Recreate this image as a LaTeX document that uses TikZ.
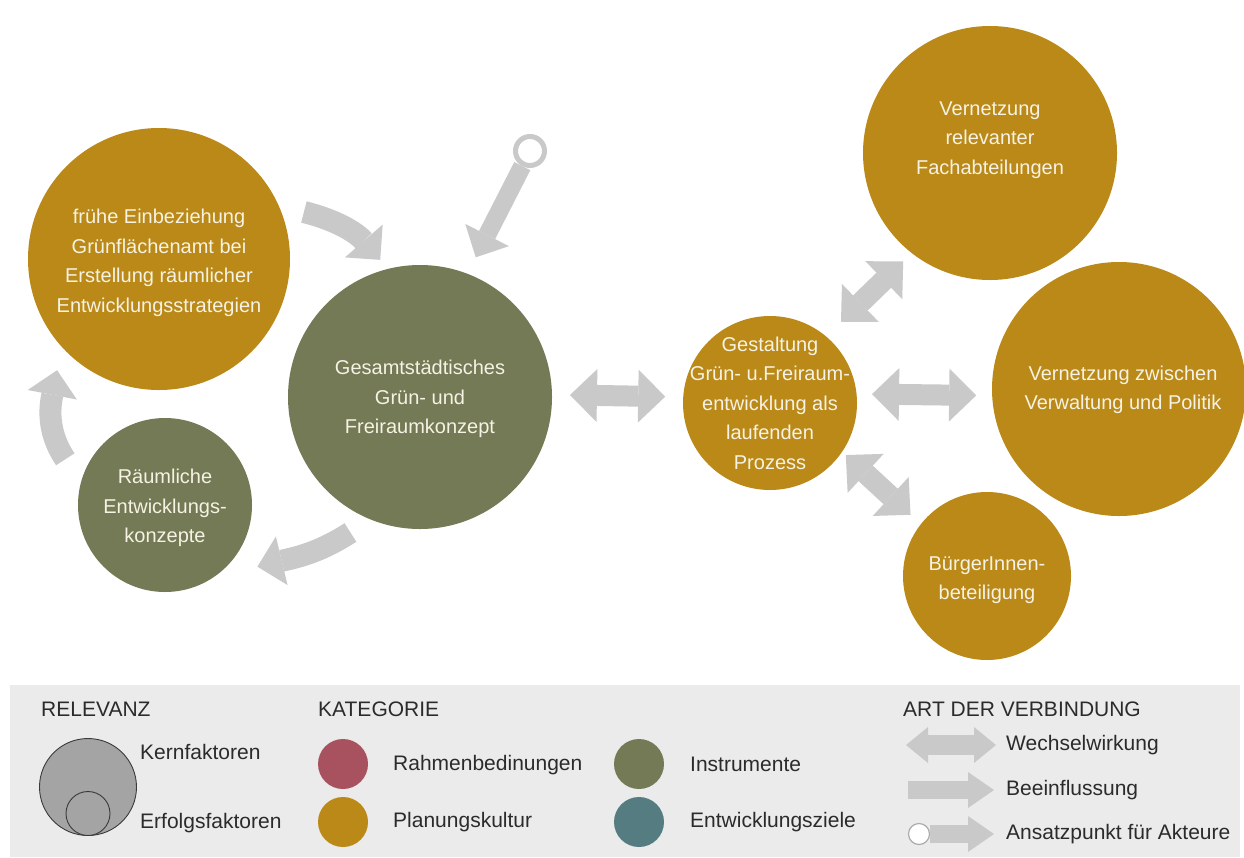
\documentclass[tikz,border=0pt]{standalone}
\usepackage{fontspec}
\setmainfont{Liberation Sans}
\usetikzlibrary{arrows.meta,calc}

\definecolor{kgold}{HTML}{BA8918}
\definecolor{kolive}{HTML}{737A55}
\definecolor{krose}{HTML}{A8515F}
\definecolor{kteal}{HTML}{557C81}
\definecolor{arrowgray}{HTML}{C9C9C9}
\definecolor{legendbg}{HTML}{EBEBEB}
\definecolor{legendtext}{HTML}{2B2B2B}
\definecolor{cream}{HTML}{F6F2E4}
\definecolor{relgray}{HTML}{A4A4A4}
\definecolor{reldark}{HTML}{3A3A3A}

\tikzset{
  every node/.style={font=\fontsize{20}{29.5}\selectfont},
  bubble/.style={circle, inner sep=0pt, outer sep=0pt, minimum size=#1},
  btext/.style={text=cream, align=center, inner sep=0pt},
  legtext/.style={anchor=west, inner sep=0pt, text=legendtext,
    font=\fontsize{21}{25}\selectfont},
  flow/.style={draw=arrowgray, line width=22pt,
    -{Triangle[width=50pt,length=25pt,line width=0pt]}},
  ringflow/.style={draw=arrowgray, line width=18pt,
    -{Triangle[width=49pt,length=25pt,line width=0pt]}},
  both/.style={draw=arrowgray, line width=21pt,
    {Triangle[width=53pt,length=27pt,line width=0pt]}-{Triangle[width=53pt,length=27pt,line width=0pt]}},
  ringnode/.style={circle, draw=arrowgray, fill=white, line width=5pt,
    minimum size=29pt, inner sep=0pt},
  legboth/.style={draw=arrowgray, line width=20pt,
    {Triangle[width=36pt,length=22pt,line width=0pt]}-{Triangle[width=36pt,length=22pt,line width=0pt]}},
  legflow/.style={draw=arrowgray, line width=18pt,
    -{Triangle[width=36pt,length=26pt,line width=0pt]}},
  legring/.style={circle, draw=arrowgray!85!black, fill=white, line width=1.2pt,
    minimum size=21pt, inner sep=0pt},
  relcircle/.style={circle, inner sep=0pt, fill=relgray, draw=reldark, line width=0.9pt, minimum size=#1},
}

\begin{document}
\begin{tikzpicture}[x=1pt,y=1pt]
\useasboundingbox (0,0) rectangle (1244,-857);
\fill[white] (0,0) rectangle (1244,-857);

% factor bubbles
\node[bubble=262pt, fill=kgold]  (A) at (159,-259) {};
\node[bubble=174pt, fill=kolive] (B) at (165,-505) {};
\node[bubble=264pt, fill=kolive] (C) at (420,-397) {};
\node[bubble=174pt, fill=kgold]  (D) at (770,-403) {};
\node[bubble=254pt, fill=kgold]  (E) at (990,-153) {};
\node[bubble=254pt, fill=kgold]  (F) at (1119,-389) {};
\node[bubble=168pt, fill=kgold]  (G) at (987,-576) {};

% bubble labels
\node[btext] (tA) at (159,-263) {frühe Einbeziehung\\Grünflächenamt bei\\Erstellung räumlicher\\Entwicklungsstrategien};
\node[btext] (tB) at (165,-508) {Räumliche\\Entwicklungs-\\konzepte};
\node[btext] (tC) at (420,-399) {Gesamtstädtisches\\Grün- und\\Freiraumkonzept};
\node[btext] (tD) at (770,-403) {Gestaltung\\Grün- u.Freiraum-\\entwicklung als\\laufenden\\Prozess};
\node[btext] (tE) at (990,-140) {Vernetzung\\relevanter\\Fachabteilungen};
\node[btext] (tF) at (1123,-390) {Vernetzung zwischen\\Verwaltung und Politik};
\node[btext] (tG) at (987,-580) {BürgerInnen-\\beteiligung};

% influence cycle on the left
\draw[flow] ($(A.24)+(-14:26)$) to[out=-14,in=131] ($(C.104)+(131:12)$);
\draw[flow] ($(C.248)+(213:24)$) to[out=213,in=13.5] ($(B.304)+(13.5:45)$);
\draw[flow] ($(B.165)+(124:28)$) to[out=124,in=259] ($(A.222)+(259:24)$);

% entry point for actors
\node[ringnode] (R) at (530,-151) {};
\draw[ringflow, shorten >=18.5pt] (R) -- (C.69);

% interactions
\draw[both, shorten <=18pt, shorten >=18pt] (C.1) -- (D.176);
\draw[both, shorten <=21pt, shorten >=12pt] (D.50) -- (E.232);
\draw[both, shorten <=15.5pt, shorten >=16pt] (D.6) -- (F.183);
\draw[both, shorten <=5pt, shorten >=14pt] (D.326) -- (G.142);

% legend
\fill[legendbg] (10,-685) rectangle (1240,-857);

\node[legtext] (relevanz) at (41,-709) {RELEVANZ};
\node[relcircle=97pt] (kern) at (88,-787) {};
\node[relcircle=44pt] (erfolg) at (88,-813.5) {};
\node[legtext] (tkern) at (140,-752) {Kernfaktoren};
\node[legtext] (terfolg) at (140,-823) {Erfolgsfaktoren};

\node[legtext] (kategorie) at (318,-709) {KATEGORIE};
\node[bubble=50pt, fill=krose]  (crahmen) at (343,-764) {};
\node[bubble=50pt, fill=kgold]  (cplan) at (343,-822) {};
\node[legtext] (trahmen) at (393,-765) {Rahmenbedinungen};
\node[legtext] (tplan) at (393,-822) {Planungskultur};
\node[bubble=50pt, fill=kolive] (cinst) at (639,-764) {};
\node[bubble=50pt, fill=kteal]  (cziel) at (639,-822) {};
\node[legtext] (tinst) at (690,-764) {Instrumente};
\node[legtext] (tziel) at (690,-822) {Entwicklungsziele};

\node[legtext] (art) at (903,-709) {ART DER VERBINDUNG};
\coordinate (w1) at (906,-745);
\coordinate (w2) at (996,-745);
\draw[legboth] (w1) -- (w2);
\node[legtext] (twech) at (1006,-745) {Wechselwirkung};
\coordinate (b1) at (908,-790);
\coordinate (b2) at (994,-790);
\draw[legflow] (b1) -- (b2);
\node[legtext] (tbeein) at (1006,-790) {Beeinflussung};
\coordinate (a2) at (994,-834);
\node[legring] (lr) at (919,-834) {};
\draw[legflow] (lr) -- (a2);
\node[legtext] (tansatz) at (1006,-834) {Ansatzpunkt für Akteure};
\end{tikzpicture}
\end{document}
